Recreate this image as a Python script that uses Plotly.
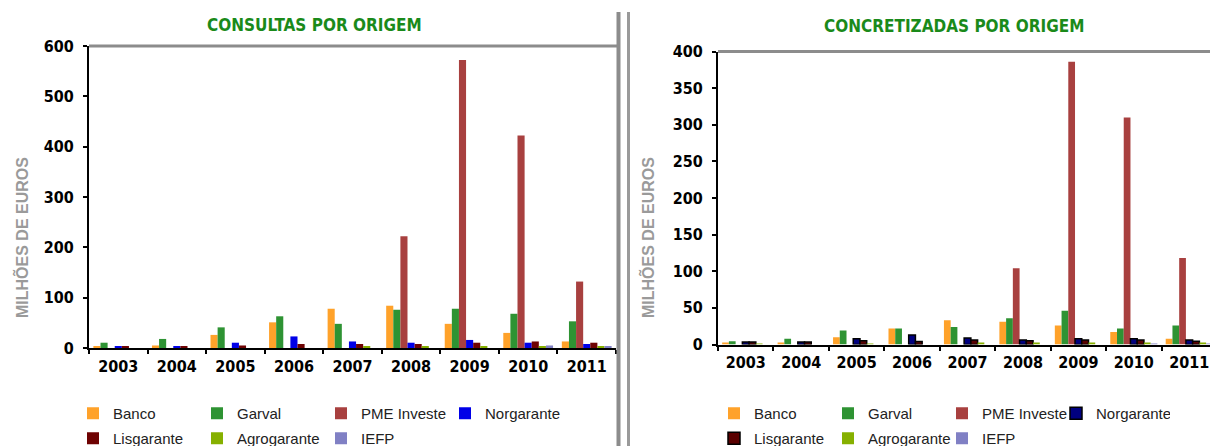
import plotly.graph_objects as go

years = ["2003", "2004", "2005", "2006", "2007", "2008", "2009", "2010", "2011"]
series_names = ["Banco", "Garval", "PME Investe", "Norgarante", "Lisgarante", "Agrogarante", "IEFP"]

# Consultas por origem (milhões de euros)
c_banco = [2, 5, 26, 51, 78, 84, 48, 30, 13]
c_garval = [10.5, 18, 41, 63, 48, 76, 78, 68, 53]
c_pme = [0, 0, 0, 0, 0, 222, 572, 422, 132]
c_norgarante = [2.5, 2.5, 10.5, 23, 13, 10.5, 16, 10.5, 8]
c_lisgarante = [2, 2.5, 5, 8, 8, 8, 10.5, 13, 10.5]
c_agrogarante = [0, 0, 0, 0, 2, 2, 2, 2, 2]
c_iefp = [0, 0, 0, 0, 0, 0, 0, 5, 2]

# Concretizadas por origem (milhões de euros)
k_banco = [2, 2, 10, 22, 33, 31, 26, 17, 8]
k_garval = [4.5, 8, 19, 22, 24, 36, 46, 22, 26]
k_pme = [0, 0, 0, 0, 0, 104, 386, 310, 118]
k_norgarante = [3.5, 3.5, 8, 13, 9, 6, 8, 8, 6]
k_lisgarante = [3.5, 3.5, 5, 4, 6, 5, 6, 6, 4.5]
k_agrogarante = [1, 0, 1, 0, 2, 2, 2, 2, 2]
k_iefp = [0, 0, 0, 0, 0, 0, 0, 1, 1]

left_colors = ["#FFA22A", "#2E9333", "#A8403F", "#0000E8", "#6E0202", "#86B000", "#8080C4"]
right_colors = ["#FFA22A", "#2E9333", "#A8403F", "#000080", "#5A0000", "#86B000", "#8080C4"]
right_lines = [0, 0, 0, 1.5, 1.5, 0, 0]

left_data = [c_banco, c_garval, c_pme, c_norgarante, c_lisgarante, c_agrogarante, c_iefp]
right_data = [k_banco, k_garval, k_pme, k_norgarante, k_lisgarante, k_agrogarante, k_iefp]

# The page body has an 8px margin, so the figure is drawn 8px in from the window's corner.
OFF = 8
W, H = 1218 - OFF, 446 - OFF
def px(x):
    return (x - OFF) / W
def py(y):
    return 1 - (y - OFF) / H

fig = go.Figure()
for i, (name, vals, col) in enumerate(zip(series_names, left_data, left_colors)):
    fig.add_trace(go.Bar(x=years, y=vals, name=name, marker=dict(color=col, line=dict(width=0)),
                         xaxis="x", yaxis="y", legend="legend" if i < 4 else "legend3"))
for i, (name, vals, col, lw) in enumerate(zip(series_names, right_data, right_colors, right_lines)):
    fig.add_trace(go.Bar(x=years, y=vals, name=name,
                         marker=dict(color=col, line=dict(width=lw, color="#000000")),
                         xaxis="x2", yaxis="y2", legend="legend2" if i < 4 else "legend4"))

tickfont = dict(family="DejaVu Sans Condensed, DejaVu Sans, sans-serif",
                size=16, color="#000000", weight="bold")
axis_common = dict(showgrid=False, zeroline=False, showline=True, linecolor="#000000", linewidth=2,
                   ticks="outside", ticklen=4, tickwidth=2, tickcolor="#000000", tickfont=tickfont,
                   fixedrange=True, automargin=False)

legend_font = dict(family="Liberation Sans, Arial, sans-serif", size=15, color="#222222")
def leg(x, y, ew):
    return dict(orientation="h", x=px(x), y=py(y), xanchor="left", yanchor="bottom",
                entrywidth=ew, entrywidthmode="pixels", itemwidth=30, traceorder="normal",
                font=legend_font, bgcolor="rgba(0,0,0,0)", borderwidth=0)

fig.update_layout(
    width=W, height=H, autosize=False,
    margin=dict(l=0, r=0, t=0, b=0, pad=0, autoexpand=False),
    paper_bgcolor="#FFFFFF", plot_bgcolor="#FFFFFF",
    barmode="group", bargap=0.15, bargroupgap=0,
    xaxis=dict(domain=[px(89), px(616)], anchor="y", type="category", tickson="boundaries",
               tickangle=0, ticklabelstandoff=3, **axis_common),
    yaxis=dict(domain=[py(348), py(46)], anchor="x", range=[0, 600], dtick=100, ticklabelstandoff=6,
               **axis_common),
    xaxis2=dict(domain=[px(718), px(1217)], anchor="y2", type="category", tickson="boundaries",
                tickangle=0, ticklabelstandoff=2, **axis_common),
    yaxis2=dict(domain=[py(344.5), py(51.5)], anchor="x2", range=[0, 400], dtick=50, ticklabelstandoff=6,
                **axis_common),
    legend=leg(73, 430, 79),
    legend3=leg(73, 455, 79),
    legend2=leg(714, 430, 69),
    legend4=leg(714, 455, 69),
    showlegend=True,
)

title_font = dict(family="DejaVu Sans Condensed, DejaVu Sans, sans-serif",
                  size=17, color="#1A8A1A", weight="bold")
ytitle_font = dict(family="Liberation Sans, Arial, sans-serif", size=16, color="#9A9A9A", weight="bold")
fig.add_annotation(x=px(314), y=py(25), xref="paper", yref="paper", text="CONSULTAS POR ORIGEM",
                   showarrow=False, font=title_font, xanchor="center", yanchor="middle")
fig.add_annotation(x=px(954), y=py(26), xref="paper", yref="paper", text="CONCRETIZADAS POR ORIGEM",
                   showarrow=False, font=title_font, xanchor="center", yanchor="middle")
fig.add_annotation(x=px(21), y=py(238), xref="paper", yref="paper", text="MILHÕES DE EUROS",
                   showarrow=False, font=ytitle_font, textangle=-90, xanchor="center", yanchor="middle")
fig.add_annotation(x=px(647), y=py(238), xref="paper", yref="paper", text="MILHÕES DE EUROS",
                   showarrow=False, font=ytitle_font, textangle=-90, xanchor="center", yanchor="middle")

gray = "#8C8C8C"
shapes = [
    dict(type="line", xref="paper", yref="paper", x0=px(89), x1=px(618), y0=py(46), y1=py(46),
         line=dict(color=gray, width=3)),
    dict(type="line", xref="paper", yref="paper", x0=px(618.5), x1=px(618.5), y0=py(12), y1=0,
         line=dict(color=gray, width=4)),
    dict(type="line", xref="paper", yref="paper", x0=px(628.5), x1=px(628.5), y0=py(12), y1=0,
         line=dict(color="#9A9A9A", width=3)),
    dict(type="line", xref="paper", yref="paper", x0=px(718), x1=1, y0=py(51.5), y1=py(51.5),
         line=dict(color=gray, width=3)),
    dict(type="line", xref="paper", yref="paper", x0=px(1216.5), x1=px(1216.5), y0=py(51.5), y1=py(344.5),
         line=dict(color="#A0A0A0", width=1.5)),
]
fig.update_layout(shapes=shapes)

fig.write_html("out.html")
